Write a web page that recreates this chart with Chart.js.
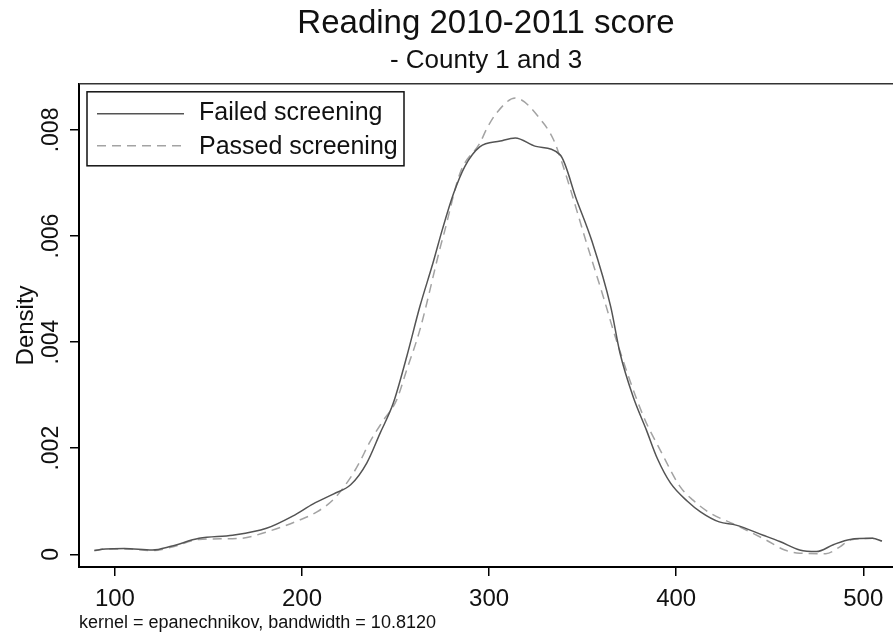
<!DOCTYPE html>
<html>
<head>
<meta charset="utf-8">
<script src="https://cdn.jsdelivr.net/npm/chart.js@4/dist/chart.umd.min.js"></script>
<style>
  html, body { margin: 0; padding: 0; background: #fff; }
  #wrap { width: 893px; height: 639px; position: relative; }
</style>
</head>
<body>
<div id="wrap"><canvas id="kdens"></canvas></div>
<script>
const titleText = 'Reading 2010-2011 score';
const subtitleText = '- County 1 and 3';
const yTitle = 'Density';
const noteText = 'kernel = epanechnikov, bandwidth = 10.8120';
const seriesLabels = ['Failed screening', 'Passed screening'];

const xTicks = [100, 200, 300, 400, 500];
const yTicks = [0, 0.002, 0.004, 0.006, 0.008];
const yTickLabels = ['0', '.002', '.004', '.006', '.008'];

// (score, density)
const scoreFailed = [89, 95, 105, 120, 130, 145, 163, 181, 195, 206, 217, 226, 234.6, 241.7, 248.8, 256, 263, 270, 275, 281, 287, 295, 306, 314, 325, 338, 346.8, 355, 365, 370, 377, 384, 390, 397, 406, 413, 423, 432, 446.5, 455.4, 466, 475, 484, 493, 505, 510];
const densityFailed = [0.00007, 0.00010, 0.00011, 0.00008, 0.00015, 0.00030, 0.00036, 0.00049, 0.00072, 0.00095, 0.00114, 0.00131, 0.00172, 0.00228, 0.00285, 0.00373, 0.00467, 0.00549, 0.00612, 0.00680, 0.00731, 0.00768, 0.00779, 0.00785, 0.00769, 0.00753, 0.00668, 0.00590, 0.00467, 0.00379, 0.00297, 0.00235, 0.00180, 0.00134, 0.00100, 0.00080, 0.00061, 0.00055, 0.00036, 0.00024, 0.00008, 0.00005, 0.00018, 0.00028, 0.00030, 0.00025];

const scorePassed = [89, 95, 105, 120, 130, 145, 167, 181, 199, 208, 217, 226, 231, 236, 243, 250.6, 256, 263, 274, 276, 284.5, 295, 299, 304, 314, 329, 334.4, 339, 352, 361, 368, 382.5, 391.4, 402, 409, 418, 432, 448, 458, 466, 480, 487.5, 493, 505, 510];
const densityPassed = [0.00007, 0.00010, 0.00010, 0.00007, 0.00013, 0.00028, 0.00030, 0.00042, 0.00065, 0.00080, 0.00104, 0.00145, 0.00175, 0.00210, 0.00250, 0.00291, 0.00348, 0.00423, 0.00580, 0.00606, 0.00719, 0.00775, 0.00804, 0.00832, 0.00860, 0.00813, 0.00782, 0.00738, 0.00588, 0.00486, 0.00404, 0.00260, 0.00197, 0.00128, 0.00102, 0.00078, 0.00055, 0.00027, 0.00008, 0.00002, 0.00001, 0.00014, 0.00027, 0.00030, 0.00025];

const X_MIN = 80.8, X_MAX = 515.9;
const Y_MIN = -0.00024, Y_MAX = 0.00887;

const FONT = '"Liberation Sans", Arial, sans-serif';
const INK = '#111';
const failedColor = '#545454';
const passedColor = '#a3a3a3';
const passedDash = [9, 6];

function pairs(xs, ys) {
  return xs.map((x, i) => ({ x: x, y: ys[i] }));
}

// Stata-style frame line on top and boxed legend inside the plot
const frameAndLegend = {
  id: 'frameAndLegend',
  afterDraw(chart) {
    const { ctx, chartArea } = chart;
    ctx.save();
    ctx.strokeStyle = '#333';
    ctx.lineWidth = 1.5;
    ctx.beginPath();
    ctx.moveTo(chartArea.left, chartArea.top);
    ctx.lineTo(chartArea.right, chartArea.top);
    ctx.stroke();

    const bx = chartArea.left + 8, by = chartArea.top + 8;
    ctx.strokeStyle = '#111';
    ctx.lineWidth = 1.5;
    ctx.strokeRect(bx, by, 317, 74);

    ctx.font = '25px ' + FONT;
    ctx.fillStyle = INK;
    ctx.textBaseline = 'alphabetic';
    chart.data.datasets.forEach((ds, i) => {
      const ly = by + 22 + i * 32;
      ctx.strokeStyle = ds.borderColor;
      ctx.lineWidth = ds.borderWidth;
      ctx.setLineDash(ds.borderDash || []);
      ctx.beginPath();
      ctx.moveTo(bx + 10, ly);
      ctx.lineTo(bx + 97, ly);
      ctx.stroke();
      ctx.setLineDash([]);
      ctx.fillText(ds.label, bx + 112, ly + 6 + i * 2);
    });
    ctx.restore();
  }
};

new Chart(document.getElementById('kdens'), {
  type: 'line',
  data: {
    datasets: [{
      label: seriesLabels[0],
      data: pairs(scoreFailed, densityFailed),
      borderColor: failedColor,
      borderWidth: 1.5,
      cubicInterpolationMode: 'monotone'
    }, {
      label: seriesLabels[1],
      data: pairs(scorePassed, densityPassed),
      borderColor: passedColor,
      borderWidth: 1.5,
      borderDash: passedDash,
      cubicInterpolationMode: 'monotone'
    }]
  },
  options: {
    responsive: true,
    maintainAspectRatio: false,
    animation: false,
    layout: { padding: 0 },
    elements: { point: { radius: 0 } },
    plugins: {
      legend: { display: false },
      tooltip: { enabled: false },
      title: {
        display: true, text: titleText, fullSize: false, color: INK,
        font: { family: FONT, size: 33, weight: 'normal' },
        padding: { top: 4, bottom: 0 }
      },
      subtitle: {
        display: true, text: subtitleText, fullSize: false, color: INK,
        font: { family: FONT, size: 26, weight: 'normal' },
        padding: { top: 2, bottom: 7 }
      }
    },
    scales: {
      x: {
        type: 'linear',
        min: X_MIN, max: X_MAX,
        afterBuildTicks: s => { s.ticks = xTicks.map(v => ({ value: v })); },
        afterFit: s => { s.height = 72; },
        grid: { drawOnChartArea: false, drawTicks: true, tickLength: 9, color: '#000', lineWidth: 1.5 },
        border: { display: true, color: '#000', width: 2 },
        ticks: {
          padding: 9, color: INK, maxRotation: 0, autoSkip: false,
          font: { family: FONT, size: 24 },
          callback: v => String(v)
        },
        title: {
          display: true, text: noteText, align: 'start', color: INK,
          font: { family: FONT, size: 18 },
          padding: { top: 0, bottom: 5 }
        }
      },
      y: {
        type: 'linear',
        min: Y_MIN, max: Y_MAX,
        afterBuildTicks: s => { s.ticks = yTicks.map(v => ({ value: v })); },
        afterFit: s => { s.width = 79; },
        grid: { drawOnChartArea: false, drawTicks: true, tickLength: 9, color: '#000', lineWidth: 1.5 },
        border: { display: true, color: '#000', width: 2 },
        ticks: {
          padding: -4, color: INK, minRotation: 90, maxRotation: 90,
          crossAlign: 'center', autoSkip: false,
          font: { family: FONT, size: 23 },
          callback: (v, i) => yTickLabels[i]
        },
        title: {
          display: true, text: yTitle, color: INK,
          font: { family: FONT, size: 24 },
          padding: { top: 12, bottom: 0 }
        }
      }
    }
  },
  plugins: [frameAndLegend]
});
</script>
</body>
</html>
